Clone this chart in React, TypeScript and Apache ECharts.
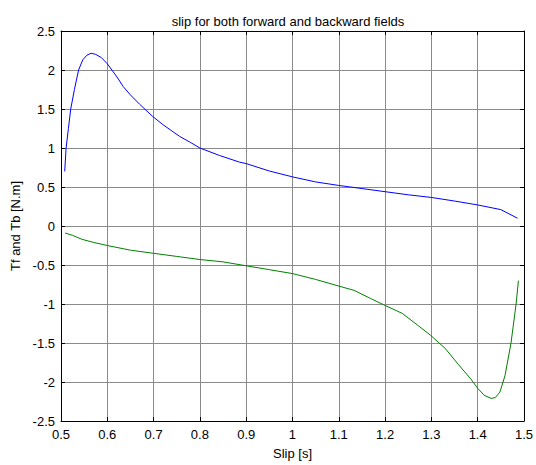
import React, { useEffect, useRef } from "react";
import * as echarts from "echarts";

const titleText = "slip for both forward and backward fields";
const xName = "Slip [s]";
const yName = "Tf and Tb [N.m]";

const forwardTorque: [number, number][] = [
  [0.508, 0.7], [0.511, 1.0], [0.516, 1.25], [0.521, 1.5], [0.529, 1.75],
  [0.538, 2.0], [0.547, 2.13], [0.556, 2.19], [0.565, 2.215], [0.575, 2.2],
  [0.587, 2.16], [0.6, 2.08], [0.621, 1.91], [0.634, 1.79], [0.65, 1.68],
  [0.67, 1.56], [0.697, 1.41], [0.72, 1.3], [0.756, 1.15], [0.78, 1.07],
  [0.8, 1.0], [0.842, 0.905], [0.885, 0.82], [0.9, 0.8], [0.95, 0.705],
  [1.0, 0.63], [1.05, 0.565], [1.1, 0.52], [1.15, 0.48], [1.2, 0.44],
  [1.25, 0.4], [1.3, 0.366], [1.35, 0.32], [1.4, 0.27], [1.45, 0.21],
  [1.486, 0.1],
];

const backwardTorque: [number, number][] = [
  [0.509, -0.09], [0.525, -0.12], [0.545, -0.17], [0.57, -0.21], [0.6, -0.25],
  [0.65, -0.31], [0.7, -0.35], [0.75, -0.39], [0.8, -0.43], [0.85, -0.46],
  [0.9, -0.51], [0.95, -0.56], [1.0, -0.61], [1.05, -0.685], [1.1, -0.77],
  [1.133, -0.825], [1.169, -0.93], [1.197, -1.01], [1.237, -1.12], [1.27, -1.27],
  [1.298, -1.4], [1.33, -1.57], [1.359, -1.78], [1.385, -1.96], [1.4, -2.08],
  [1.414, -2.17], [1.429, -2.21], [1.438, -2.2], [1.448, -2.13], [1.459, -1.92],
  [1.472, -1.5], [1.483, -1.0], [1.488, -0.7],
];

const xRange = { min: 0.5, max: 1.5, interval: 0.1 };
const yRange = { min: -2.5, max: 2.5, interval: 0.5 };

const FONT = "Liberation Sans, Arial, sans-serif";

export default function App() {
  const ref = useRef<HTMLDivElement>(null);
  useEffect(() => {
    if (!ref.current) return;
    const chart = echarts.init(ref.current, undefined, { renderer: "svg" });
    const gridLine = { show: true, lineStyle: { color: "#8a8a8a", width: 1, type: "solid" as const } };
    const tick = { show: true, inside: true, length: 4, lineStyle: { color: "#000" } };
    const axisLine = { show: true, onZero: false, lineStyle: { color: "#000", width: 1 } };
    chart.setOption({
      animation: false,
      backgroundColor: "#fff",
      title: {
        text: titleText,
        left: 283,
        top: 10,
        textAlign: "center",
        textStyle: { fontFamily: FONT, fontSize: 13, fontWeight: "normal", color: "#000" },
      },
      grid: { left: 61, top: 31, right: 10, bottom: 42, containLabel: false },
      xAxis: [
        {
          type: "value",
          ...xRange,
          position: "bottom",
          name: xName,
          nameLocation: "middle",
          nameGap: 26,
          nameTextStyle: { fontFamily: FONT, fontSize: 13, color: "#000" },
          axisLine,
          axisTick: tick,
          axisLabel: { fontFamily: FONT, fontSize: 13, color: "#000", margin: 7 },
          splitLine: gridLine,
        },
        {
          type: "value",
          ...xRange,
          position: "top",
          axisLine,
          axisTick: tick,
          axisLabel: { show: false },
          splitLine: { show: false },
        },
      ],
      yAxis: [
        {
          type: "value",
          ...yRange,
          position: "left",
          name: yName,
          nameLocation: "middle",
          nameGap: 34,
          nameTextStyle: { fontFamily: FONT, fontSize: 13, color: "#000" },
          axisLine,
          axisTick: tick,
          axisLabel: { fontFamily: FONT, fontSize: 13, color: "#000", margin: 6 },
          splitLine: gridLine,
        },
        {
          type: "value",
          ...yRange,
          position: "right",
          axisLine,
          axisTick: tick,
          axisLabel: { show: false },
          splitLine: { show: false },
        },
      ],
      series: [
        {
          type: "line",
          data: forwardTorque,
          showSymbol: false,
          symbol: "none",
          lineStyle: { color: "#0000ff", width: 1 },
          itemStyle: { color: "#0000ff" },
          z: 3,
        },
        {
          type: "line",
          data: backwardTorque,
          showSymbol: false,
          symbol: "none",
          lineStyle: { color: "#008000", width: 1 },
          itemStyle: { color: "#008000" },
          z: 3,
        },
      ],
    });
    return () => chart.dispose();
  }, []);
  return (
    <div
      ref={ref}
      style={{ position: "absolute", left: 0, top: 0, width: 536, height: 465, background: "#fff" }}
    />
  );
}
